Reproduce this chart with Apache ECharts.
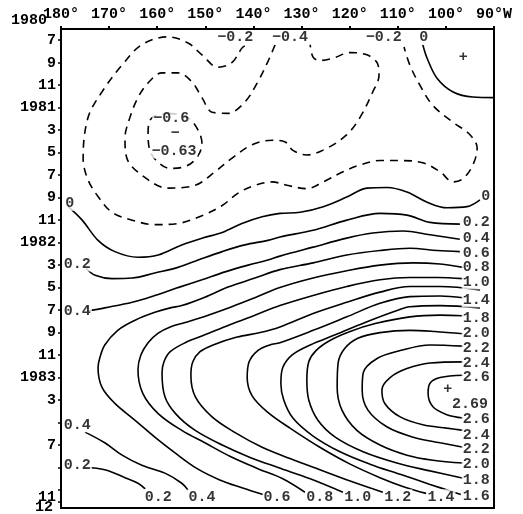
<!DOCTYPE html>
<html><head><meta charset="utf-8">
<script src="https://cdn.jsdelivr.net/npm/echarts@6/dist/echarts.min.js"></script>
<style>html,body{margin:0;padding:0;background:#fff}#c{width:523px;height:514px}</style>
</head><body><div id="c"></div>
<script>
// x: longitude in degrees (180 -> 90°W), y: month index (Jan 1980 = 1)
const lonTicks = [180,170,160,150,140,130,120,110,100,90];
const monthTickValues = [7,9,11,13,15,17,19,21,23,25,27,29,31,33,35,37,39,41,43,45,47,48];
const monthLabelValues = [7,9,11,13,15,17,19,21,23,25,27,29,31,33,35,37,39,43,47];
const monthLabelTexts  = ['7','9','11','1981','3','5','7','9','11','1982','3','5','7','9','11','1983','3','7','11'];
const endLabelValues = [6,48];
const endLabelTexts = ['1980','12'];

// negative contours (dashed)
const cNeg02 = [[141.8,7.5],[142.4,7.7],[144.5,9.0],[147.4,9.4],[150.7,8.3],[153.6,7.25],[157.8,6.7],[163.2,7.4],[167.3,9.2],[171.5,11.6],[174.4,13.9],[175.4,17.5],[174.4,19.4],[172.3,20.9],[169.4,22.3],[165.2,23.0],[160.5,23.4],[155.7,23.3],[150.7,22.6],[146.5,21.7],[143.2,20.6],[139.7,19.9],[136.1,19.6],[133.0,19.9],[128.9,20.2],[125.5,19.6],[121.4,18.7],[117.9,18.1],[113.7,17.7],[109.5,17.7],[104.8,17.9],[101.2,18.7],[98.5,19.6],[96.4,19.3],[94.4,18.1],[93.5,16.6],[95.0,15.4],[98.5,14.3],[102.7,12.8],[105.4,11.0],[107.5,9.2],[108.7,7.6]];
const cNeg04 = [[135.5,7.4],[137.0,8.9],[139.1,10.7],[141.8,12.5],[145.3,13.5],[148.6,13.4],[150.7,12.1],[152.8,10.7],[155.7,9.9],[159.0,9.9],[161.9,10.8],[164.0,12.1],[165.7,13.9],[166.7,15.7],[166.3,17.5],[163.2,19.0],[157.8,20.15],[152.1,19.9],[148.0,18.7],[144.5,17.5],[140.3,16.3],[136.1,15.9],[133.4,16.05],[131.8,16.8],[128.9,17.2],[124.7,16.6],[120.6,15.4],[117.9,13.9],[115.2,11.6],[113.9,10.1],[114.3,9.0],[116.4,8.3],[119.9,8.1],[123.5,8.6],[126.2,8.8],[127.6,8.5],[128.2,7.4]];
const cNeg06 = [[157.3,13.5],[161.1,13.9],[161.9,15.2],[161.7,16.5],[160.3,17.65],[157.3,18.4],[154.0,18.2],[151.7,17.4],[150.7,16.2],[151.5,15.0],[153.6,13.9],[157.3,13.5]];

// zero and positive contours (solid)
const c0East = [[104.8,7.4],[103.9,8.6],[101.8,10.4],[98.5,11.6],[94.4,12.05],[90.0,12.1]];
const c0 = [[178.5,21.8],[175.6,23.0],[172.3,24.8],[168.8,25.8],[164.0,26.3],[159.8,26.1],[154.9,25.2],[150.7,24.6],[146.5,24.1],[142.4,23.3],[138.2,22.7],[134.5,22.4],[130.3,22.3],[125.5,21.8],[120.6,20.95],[116.4,20.15],[112.2,20.1],[108.1,20.5],[103.9,21.4],[99.8,21.9],[95.6,21.8],[92.9,21.2]];
const c02Upper = [[174.8,27.3],[172.9,27.9],[169.4,28.2],[165.2,28.15],[160.5,27.7],[155.7,27.2],[151.5,26.55],[146.5,25.8],[141.8,25.2],[137.0,24.8],[134.5,24.5],[127.6,23.9],[120.6,23.0],[113.7,22.4],[108.1,22.55],[103.3,23.2],[97.1,23.35]];
const c04Upper = [[174.6,31.1],[170.9,30.8],[165.2,30.3],[160.5,29.7],[155.7,29.0],[150.7,28.3],[145.9,27.6],[141.1,27.0],[137.0,26.55],[134.5,26.2],[127.6,25.4],[120.6,24.6],[115.2,24.15],[108.9,23.97],[103.3,24.3],[97.1,24.7]];
const c04Lower = [[175.0,41.85],[170.9,42.8],[167.3,43.9],[163.2,44.8],[158.4,45.5],[154.9,46.4],[153.6,47.0]];
const c02Lower = [[175.0,45.0],[170.9,45.2],[166.7,45.9],[164.0,46.4],[162.5,46.9]];
const c06 = [[97.1,25.8],[101.8,25.7],[107.5,25.5],[113.7,25.7],[120.6,26.1],[127.6,26.8],[134.5,27.4],[139.7,28.15],[145.3,28.95],[150.1,29.85],[154.9,30.6],[157.3,30.8],[160.5,31.2],[164.6,31.9],[168.2,32.8],[170.9,34.1],[171.9,35.2],[172.3,36.1],[171.5,37.85],[168.8,39.3],[164.6,40.8],[160.5,42.3],[156.3,43.7],[151.7,45.1],[147.0,46.1],[142.4,46.8],[138.0,47.4]];
const c08 = [[96.4,27.2],[101.2,26.9],[106.8,26.8],[113.7,27.0],[120.6,27.5],[127.6,28.15],[134.5,29.0],[139.7,29.9],[144.5,30.7],[149.4,31.45],[154.2,32.1],[157.3,32.5],[159.8,33.05],[161.9,33.9],[163.4,35.0],[164.0,36.3],[163.0,38.4],[159.8,40.2],[154.9,41.7],[150.1,42.8],[144.9,44.0],[139.1,45.1],[133.9,46.0],[129.3,47.2]];
const c10 = [[96.4,28.2],[101.8,28.1],[107.5,28.1],[113.7,28.3],[120.6,28.9],[127.6,29.7],[134.5,30.6],[139.7,31.45],[144.9,32.3],[150.1,33.2],[154.2,33.9],[157.3,34.7],[158.6,35.6],[159.0,36.6],[158.4,38.7],[156.1,40.25],[152.1,41.7],[146.5,43.0],[140.7,44.1],[134.9,45.0],[128.2,46.0],[121.4,47.2]];
const c12 = [[92.9,29.2],[101.2,28.9],[107.5,28.9],[113.7,29.4],[120.6,30.3],[127.6,31.3],[134.5,32.5],[138.6,33.0],[143.4,33.4],[148.4,34.1],[151.1,34.7],[152.6,35.6],[153.0,36.8],[152.1,38.7],[148.6,40.5],[143.8,41.9],[138.2,43.2],[132.4,44.2],[126.2,45.2],[119.9,46.2],[113.1,47.2]];
const c14 = [[96.4,29.9],[101.2,29.75],[107.5,29.8],[113.7,30.4],[120.6,31.6],[127.6,32.8],[134.5,33.9],[136.6,34.1],[139.1,34.6],[140.9,35.6],[141.3,37.0],[140.3,38.6],[137.0,40.1],[132.4,41.5],[126.2,43.2],[119.9,44.7],[113.7,45.9],[108.5,46.75],[104.1,47.3]];
const c16 = [[92.9,30.8],[101.2,30.6],[107.5,30.7],[110.6,31.1],[116.8,32.1],[123.0,33.2],[128.2,34.1],[132.0,35.0],[133.9,36.1],[134.3,37.5],[133.7,39.0],[131.8,40.6],[127.6,42.2],[122.0,43.6],[115.8,44.7],[109.5,45.6],[103.3,46.5],[96.9,47.4]];
const c18 = [[96.4,31.5],[101.2,31.45],[107.5,31.6],[114.7,32.2],[119.9,32.9],[124.1,33.7],[127.0,34.6],[128.5,35.6],[128.9,37.2],[128.5,39.0],[126.6,40.8],[123.0,42.3],[117.2,43.6],[110.2,44.6],[103.3,45.3],[96.4,45.95]];
const c20 = [[96.4,33.1],[102.3,32.9],[107.5,32.8],[113.7,33.0],[118.3,33.5],[121.0,34.4],[122.4,35.7],[122.6,37.85],[121.6,39.9],[118.5,41.7],[113.7,43.0],[108.1,43.9],[102.7,44.35],[96.4,44.6]];
const c22 = [[96.4,34.2],[103.3,34.1],[109.5,34.6],[114.3,35.3],[117.2,36.6],[117.4,38.1],[116.2,39.9],[112.2,41.4],[106.8,42.3],[101.2,42.8],[96.4,43.2]];
const c24 = [[96.4,35.6],[103.3,35.7],[108.1,36.2],[111.6,37.0],[113.3,38.1],[112.7,39.3],[109.5,40.5],[104.8,41.2],[99.8,41.5],[96.4,41.7]];
const c26 = [[96.4,36.8],[101.2,37.0],[103.3,37.5],[103.7,38.4],[102.7,39.6],[99.8,40.3],[96.4,40.6]];

// contour labels: [text, lon, month]
const labelsTop = [['−0.2',143.8,6.75],['−0.4',132.4,6.75],['−0.2',112.9,6.75],['0',104.6,6.75]];
const labelsLeft = [['0',178.2,21.5],['0.2',176.6,26.9],['0.4',176.6,31.1],['0.4',176.6,41.2],['0.2',176.6,44.8]];
const labelsRight = [['0',91.7,20.9],['0.2',93.7,23.2],['0.4',93.7,24.6],['0.6',93.7,25.9],['0.8',93.7,27.2],['1.0',93.7,28.5],['1.4',93.7,30.1],['1.8',93.7,31.7],['2.0',93.7,33.05],['2.2',93.7,34.4],['2.4',93.7,35.7],['2.6',93.7,37.0],['2.6',93.7,40.7],['2.4',93.7,42.1],['2.2',93.7,43.4],['2.0',93.7,44.7],['1.8',93.7,46.1],['1.6',93.7,47.55]];
const labelsBottom = [['0.2',159.8,47.6],['0.4',150.7,47.6],['0.6',135.1,47.6],['0.8',126.2,47.6],['1.0',118.3,47.6],['1.2',110.0,47.6],['1.4',101.0,47.6]];
const labelsExtrema = [['−0.6',157.1,13.9],['−',156.3,15.3],['−0.63',156.5,16.85],['+',96.4,8.5],['+',99.6,38.0],['2.69',95.0,39.4]];

const dashed = [cNeg02, cNeg04, cNeg06];
const solid = [c0East, c0, c02Upper, c04Upper, c04Lower, c02Lower, c06, c08, c10, c12, c14, c16, c18, c20, c22, c24, c26];

const FONT = 'Liberation Mono';
const series = [];
dashed.forEach(d => series.push({type:'line', data:d, symbol:'none', smooth:0.35, silent:true, z:2,
  lineStyle:{color:'#000', width:1.6, type:[8,6]}}));
solid.forEach(d => series.push({type:'line', data:d, symbol:'none', smooth:0.35, silent:true, z:2,
  lineStyle:{color:'#000', width:1.6}}));
const allLabels = [].concat(labelsTop, labelsLeft, labelsRight, labelsBottom, labelsExtrema);
series.push({type:'scatter', symbolSize:1, silent:true, z:5, itemStyle:{color:'rgba(0,0,0,0)'},
  data: allLabels.map(l => ({name:l[0], value:[l[1], l[2]]})),
  label:{show:true, position:'inside', formatter: p => p.name, color:'#000', fontFamily:FONT,
    fontWeight:'bold', fontSize:15, backgroundColor:'#fff', padding:[0,1]}});

const txt = {fontFamily:FONT, fontWeight:'bold', fontSize:15, color:'#000'};
const chart = echarts.init(document.getElementById('c'), null, {renderer:'canvas'});
chart.setOption({
  animation:false,
  backgroundColor:'#fff',
  grid:{left:61, right:29, top:29, bottom:6, show:true, borderColor:'#000', borderWidth:2,
    backgroundColor:'transparent', containLabel:false, outerBoundsMode:'none'},
  xAxis:{type:'value', position:'top', min:90, max:180, inverse:true, interval:10,
    axisLine:{show:true, lineStyle:{color:'#000', width:2}},
    axisTick:{show:true, length:3, lineStyle:{color:'#000', width:2}},
    axisLabel:Object.assign({margin:7,
      formatter: v => lonTicks.indexOf(v) < 0 ? '' : (v === 90 ? '90°W' : v + '°')}, txt),
    splitLine:{show:false}},
  yAxis:[
    {type:'value', min:6, max:48.6, inverse:true, position:'left',
      axisLine:{show:true, lineStyle:{color:'#000', width:2}},
      axisTick:{show:true, length:3, customValues:monthTickValues, lineStyle:{color:'#000', width:1.5}},
      axisLabel:Object.assign({margin:5, hideOverlap:false, customValues:monthLabelValues,
        formatter: v => { const i = monthLabelValues.indexOf(v); if (i < 0) return '';
          return v === 47 ? '{a|' + monthLabelTexts[i] + '}' : monthLabelTexts[i]; },
        rich:{a:Object.assign({padding:[14,0,0,0]}, txt)}}, txt),
      splitLine:{show:false}},
    {type:'value', min:6, max:48.6, inverse:true, position:'left', offset:0,
      axisLine:{show:false}, axisTick:{show:false}, splitLine:{show:false},
      axisLabel:Object.assign({margin:8, hideOverlap:false, showMinLabel:true, showMaxLabel:true,
        customValues:endLabelValues,
        formatter: v => { const i = endLabelValues.indexOf(v); if (i < 0) return '';
          return v === 6 ? '{yr|' + endLabelTexts[i] + '}' : '{b|' + endLabelTexts[i] + '}'; },
        rich:{yr:Object.assign({padding:[0,6,18,0]}, txt), b:Object.assign({padding:[11,0,0,0]}, txt)}}, txt)}
  ],
  series: series
});
</script></body></html>
